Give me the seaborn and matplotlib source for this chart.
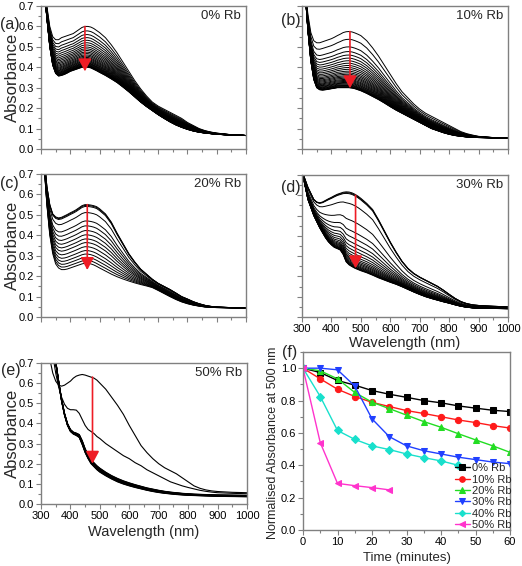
import numpy as np
import pandas as pd
import matplotlib
matplotlib.use("Agg")
import matplotlib.pyplot as plt
from matplotlib.ticker import MultipleLocator, FormatStrFormatter
import seaborn as sns

# ---------------- data ----------------
WL = [300, 310, 320, 330, 340, 350, 360, 370, 380, 390, 400, 410, 420, 430, 440, 450,
      460, 470, 480, 490, 500, 520, 540, 560, 580, 600, 620, 640, 660, 680, 700, 720,
      740, 760, 780, 800, 820, 840, 860, 880, 900, 950, 1000]

# (a) 0% Rb
a_top = [0.95, 0.82, 0.70, 0.60, 0.55, 0.535, 0.535, 0.545, 0.55, 0.555, 0.56, 0.565, 0.575, 0.585,
         0.595, 0.60, 0.60, 0.597, 0.59, 0.58, 0.57, 0.545, 0.51, 0.47, 0.425, 0.38, 0.335, 0.295,
         0.26, 0.23, 0.21, 0.195, 0.18, 0.165, 0.15, 0.13, 0.115, 0.10, 0.09, 0.083, 0.078, 0.07, 0.066]
a_bottom = [0.95, 0.80, 0.64, 0.50, 0.41, 0.37, 0.357, 0.36, 0.365, 0.372, 0.38, 0.385, 0.39, 0.395,
            0.40, 0.40, 0.40, 0.397, 0.39, 0.383, 0.375, 0.36, 0.343, 0.325, 0.303, 0.28, 0.255, 0.23,
            0.208, 0.188, 0.168, 0.15, 0.133, 0.118, 0.106, 0.096, 0.088, 0.082, 0.078, 0.075, 0.072,
            0.068, 0.066]
a_peaks = [0.600, 0.578, 0.560, 0.545, 0.532, 0.520, 0.509, 0.499, 0.490, 0.482, 0.474, 0.467,
           0.460, 0.454, 0.448, 0.443, 0.438, 0.433, 0.429, 0.425, 0.421, 0.418, 0.415, 0.412,
           0.409, 0.407, 0.405, 0.403, 0.401, 0.400]

# (b) 10% Rb
b_top = [0.95, 0.80, 0.66, 0.57, 0.53, 0.52, 0.52, 0.525, 0.53, 0.535, 0.54, 0.547, 0.555, 0.562,
         0.57, 0.574, 0.575, 0.573, 0.568, 0.562, 0.555, 0.53, 0.495, 0.455, 0.41, 0.365, 0.32, 0.28,
         0.25, 0.22, 0.195, 0.175, 0.16, 0.145, 0.13, 0.115, 0.10, 0.085, 0.075, 0.068, 0.062, 0.056, 0.054]
b_bottom = [0.95, 0.78, 0.58, 0.43, 0.34, 0.30, 0.29, 0.288, 0.29, 0.292, 0.295, 0.297, 0.30, 0.30,
            0.30, 0.30, 0.30, 0.298, 0.295, 0.29, 0.285, 0.272, 0.257, 0.242, 0.225, 0.207, 0.19,
            0.175, 0.16, 0.145, 0.13, 0.115, 0.10, 0.09, 0.08, 0.072, 0.066, 0.062, 0.059, 0.057,
            0.056, 0.055, 0.054]
b_peaks = [0.575, 0.537, 0.500, 0.477, 0.460, 0.445, 0.432, 0.420, 0.409, 0.399, 0.390, 0.381,
           0.373, 0.366, 0.359, 0.353, 0.347, 0.341, 0.336, 0.331, 0.326, 0.322, 0.318, 0.314,
           0.311, 0.308, 0.305, 0.303, 0.301, 0.300]

# (c) 20% Rb
c_top = [0.95, 0.80, 0.64, 0.55, 0.505, 0.49, 0.485, 0.488, 0.495, 0.502, 0.51, 0.517, 0.525, 0.535,
         0.545, 0.55, 0.55, 0.548, 0.545, 0.54, 0.53, 0.505, 0.465, 0.41, 0.36, 0.31, 0.27, 0.235,
         0.21, 0.185, 0.165, 0.15, 0.135, 0.118, 0.10, 0.088, 0.075, 0.065, 0.057, 0.052, 0.049, 0.046, 0.044]
c_bottom = [0.95, 0.75, 0.55, 0.40, 0.31, 0.26, 0.24, 0.232, 0.232, 0.235, 0.24, 0.245, 0.25, 0.255,
            0.26, 0.263, 0.263, 0.26, 0.255, 0.248, 0.24, 0.225, 0.21, 0.197, 0.186, 0.176, 0.167,
            0.159, 0.152, 0.144, 0.13, 0.115, 0.10, 0.086, 0.074, 0.065, 0.058, 0.053, 0.049, 0.047,
            0.046, 0.045, 0.044]
c_peaks = [0.550, 0.546, 0.541, 0.511, 0.470, 0.446, 0.423, 0.402, 0.382, 0.364, 0.344, 0.325,
           0.308, 0.292, 0.277, 0.263]

# (d) 30% Rb
d_top = [0.72, 0.68, 0.64, 0.61, 0.58, 0.567, 0.563, 0.567, 0.575, 0.583, 0.59, 0.598, 0.605, 0.61,
         0.615, 0.617, 0.616, 0.612, 0.605, 0.596, 0.585, 0.56, 0.53, 0.48, 0.425, 0.37, 0.32, 0.275,
         0.24, 0.215, 0.197, 0.182, 0.167, 0.152, 0.133, 0.112, 0.092, 0.076, 0.066, 0.06, 0.057, 0.053, 0.05]
d_bottom = [0.72, 0.65, 0.58, 0.54, 0.50, 0.47, 0.44, 0.415, 0.39, 0.37, 0.355, 0.343, 0.337, 0.33,
            0.308, 0.272, 0.257, 0.248, 0.24, 0.234, 0.228, 0.218, 0.206, 0.193, 0.182, 0.171, 0.161,
            0.149, 0.136, 0.123, 0.111, 0.10, 0.091, 0.083, 0.075, 0.068, 0.06, 0.053, 0.048, 0.045,
            0.043, 0.042, 0.041]
d_peaks = [0.616, 0.612, 0.608, 0.560, 0.480, 0.430, 0.400, 0.375, 0.356, 0.340, 0.326, 0.314,
           0.304, 0.296, 0.289, 0.283, 0.277, 0.272, 0.268, 0.264, 0.261, 0.259, 0.257]

# (e) 50% Rb
e_first = [1.2, 1.0, 0.85, 0.72, 0.65, 0.61, 0.59, 0.585, 0.59, 0.60, 0.61, 0.625, 0.635, 0.64,
           0.643, 0.64, 0.635, 0.63, 0.625, 0.615, 0.60, 0.57, 0.53, 0.49, 0.445, 0.39, 0.34, 0.29,
           0.255, 0.225, 0.20, 0.18, 0.165, 0.15, 0.13, 0.11, 0.09, 0.078, 0.07, 0.065, 0.062, 0.058, 0.056]
e_second = [1.3, 1.1, 0.95, 0.85, 0.74, 0.65, 0.58, 0.53, 0.495, 0.475, 0.468, 0.468, 0.466, 0.45,
            0.42, 0.39, 0.37, 0.36, 0.35, 0.335, 0.325, 0.30, 0.28, 0.26, 0.24, 0.225, 0.205, 0.19,
            0.17, 0.155, 0.14, 0.125, 0.11, 0.10, 0.09, 0.082, 0.075, 0.068, 0.063, 0.059, 0.056, 0.053, 0.051]
e_bundle_low = [1.3, 1.15, 1.0, 0.88, 0.78, 0.70, 0.60, 0.51, 0.44, 0.39, 0.36, 0.347, 0.34, 0.33,
                0.295, 0.255, 0.225, 0.20, 0.185, 0.17, 0.158, 0.14, 0.124, 0.11, 0.099, 0.09, 0.082,
                0.075, 0.068, 0.062, 0.057, 0.053, 0.05, 0.047, 0.045, 0.043, 0.042, 0.041, 0.04,
                0.039, 0.038, 0.037, 0.036]
e_bundle_high = [1.3, 1.15, 1.0, 0.89, 0.79, 0.71, 0.61, 0.52, 0.45, 0.40, 0.37, 0.357, 0.352, 0.345,
                 0.315, 0.275, 0.245, 0.222, 0.205, 0.19, 0.178, 0.158, 0.141, 0.127, 0.115, 0.105,
                 0.096, 0.088, 0.08, 0.074, 0.068, 0.063, 0.059, 0.056, 0.053, 0.051, 0.049, 0.048,
                 0.047, 0.046, 0.045, 0.044, 0.043]
e_bundle_levels = [0.178, 0.176, 0.174, 0.172, 0.170, 0.168, 0.166, 0.164, 0.162, 0.160, 0.158]

# (f) normalised absorbance at 500 nm
time_min = [0, 5, 10, 15, 20, 25, 30, 35, 40, 45, 50, 55, 60]
rb0 = [1.0, 0.973, 0.924, 0.895, 0.862, 0.839, 0.82, 0.80, 0.786, 0.767, 0.753, 0.74, 0.732]
rb10 = [1.0, 0.934, 0.87, 0.825, 0.789, 0.763, 0.738, 0.72, 0.70, 0.68, 0.664, 0.645, 0.63]
rb20 = [1.0, 0.984, 0.934, 0.85, 0.79, 0.75, 0.71, 0.67, 0.635, 0.595, 0.557, 0.52, 0.48]
rb30 = [1.0, 1.0, 0.99, 0.89, 0.687, 0.577, 0.52, 0.49, 0.47, 0.45, 0.435, 0.42, 0.41]
time40 = [0, 5, 10, 15, 20, 25, 30, 35, 40, 45]
rb40 = [1.0, 0.825, 0.615, 0.56, 0.52, 0.497, 0.47, 0.447, 0.427, 0.40]
time50 = [0, 5, 10, 15, 20, 25]
rb50 = [1.0, 0.54, 0.288, 0.274, 0.262, 0.248]
f_labels = ["0% Rb", "10% Rb", "20% Rb", "30% Rb", "40% Rb", "50% Rb"]

# ---------------- style ----------------
sns.set_theme(style="white")
plt.rcParams["font.family"] = ["Liberation Sans", "DejaVu Sans"]

W, H = 522, 566
fig = plt.figure(figsize=(W / 100, H / 100), dpi=100)

SPINE = "#808080"


def add_ax(l, t, r, b):
    return fig.add_axes([l / W, 1 - b / H, (r - l) / W, (b - t) / H])


def ftext(x, y, s, **kw):
    fig.text(x / W, 1 - y / H, s, **kw)


def style_spec(ax, xlabels, ylabels):
    ax.set_xlim(300, 1000)
    ax.set_ylim(0, 0.7)
    ax.xaxis.set_major_locator(MultipleLocator(100))
    ax.xaxis.set_minor_locator(MultipleLocator(50))
    ax.yaxis.set_major_locator(MultipleLocator(0.1))
    ax.yaxis.set_minor_locator(MultipleLocator(0.05))
    ax.yaxis.set_major_formatter(FormatStrFormatter("%.1f"))
    ax.tick_params(which="both", direction="out", color=SPINE, width=0.8,
                   bottom=True, left=True, top=False, right=False,
                   labelsize=8, pad=1.5, labelcolor="black")
    ax.tick_params(which="major", length=3.5)
    ax.tick_params(which="minor", length=2)
    ax.tick_params(labelbottom=xlabels, labelleft=ylabels)
    for s in ax.spines.values():
        s.set_color(SPINE)
        s.set_linewidth(1.0)
    ax.set_xlabel("")
    ax.set_ylabel("")


def family_df(top, bottom, levels, ref_wl):
    i = WL.index(ref_wl)
    t = np.array(top)
    b = np.array(bottom)
    rows = []
    for k, p in enumerate(levels):
        frac = (p - b[i]) / (t[i] - b[i])
        y = b + frac * (t - b)
        rows.append(pd.DataFrame({"wl": WL, "A": y, "curve": k}))
    return pd.concat(rows, ignore_index=True)


def draw_family(ax, df, lw=0.7):
    sns.lineplot(data=df, x="wl", y="A", units="curve", estimator=None,
                 color="black", linewidth=lw, ax=ax, legend=False)


def red_arrow(ax, x, y0, y1):
    ax.annotate("", xy=(x, y1), xytext=(x, y0),
                arrowprops=dict(arrowstyle="-|>,head_length=0.75,head_width=0.4",
                                color="#ee1c25", lw=1.2, shrinkA=0, shrinkB=0,
                                mutation_scale=10))


def corner_text(ax, s):
    ax.text(0.975, 0.93, s, transform=ax.transAxes, ha="right", va="center", fontsize=9.5)


# (a)
ax_a = add_ax(41, 6, 246, 149)
draw_family(ax_a, family_df(a_top, a_bottom, a_peaks, 450))
style_spec(ax_a, False, True)
red_arrow(ax_a, 450, 0.60, 0.38)
corner_text(ax_a, "0% Rb")

# (b)
ax_b = add_ax(302, 6, 508, 149)
draw_family(ax_b, family_df(b_top, b_bottom, b_peaks, 460))
style_spec(ax_b, False, False)
red_arrow(ax_b, 463, 0.575, 0.297)
corner_text(ax_b, "10% Rb")

# (c)
ax_c = add_ax(41, 174, 246, 317)
draw_family(ax_c, family_df(c_top, c_bottom, c_peaks, 450))
style_spec(ax_c, False, True)
red_arrow(ax_c, 458, 0.55, 0.23)
corner_text(ax_c, "20% Rb")

# (d)
ax_d = add_ax(302, 175, 508, 317)
draw_family(ax_d, family_df(d_top, d_bottom, d_peaks, 460))
style_spec(ax_d, True, False)
red_arrow(ax_d, 482, 0.60, 0.24)
corner_text(ax_d, "30% Rb")

# (e)
ax_e = add_ax(41, 363, 247, 504)
e_df = family_df(e_bundle_high, e_bundle_low, e_bundle_levels, 500)
e_extra = pd.concat([pd.DataFrame({"wl": WL, "A": e_first, "curve": 100}),
                     pd.DataFrame({"wl": WL, "A": e_second, "curve": 101})], ignore_index=True)
draw_family(ax_e, pd.concat([e_df, e_extra], ignore_index=True), lw=0.8)
style_spec(ax_e, True, True)
red_arrow(ax_e, 475, 0.63, 0.20)
corner_text(ax_e, "50% Rb")

# (f)
ax_f = add_ax(303, 352, 510, 530)
f_series = [(time_min, rb0, "black", "s"),
            (time_min, rb10, "#ff1a1a", "o"),
            (time_min, rb20, "#22dd22", "^"),
            (time_min, rb30, "#2040ff", "v"),
            (time40, rb40, "#18e0cc", "D"),
            (time50, rb50, "#ff33cc", "<")]
for (tt, vv, col, mk), lab in zip(f_series, f_labels):
    sns.lineplot(x=tt, y=vv, color=col, marker=mk, markersize=4.5 if mk != "D" else 3.6,
                 markeredgecolor=col, linewidth=1.0, label=lab, ax=ax_f)
ax_f.set_xlim(0, 60)
ax_f.set_ylim(0, 1.1)
ax_f.xaxis.set_major_locator(MultipleLocator(10))
ax_f.xaxis.set_minor_locator(MultipleLocator(5))
ax_f.yaxis.set_major_locator(MultipleLocator(0.2))
ax_f.yaxis.set_minor_locator(MultipleLocator(0.1))
ax_f.yaxis.set_major_formatter(FormatStrFormatter("%.1f"))
ax_f.tick_params(which="both", direction="out", color=SPINE, width=0.8,
                 bottom=True, left=True, top=False, right=False,
                 labelsize=8, pad=1.5, labelcolor="black")
ax_f.tick_params(which="major", length=3.5)
ax_f.tick_params(which="minor", length=2)
for s in ax_f.spines.values():
    s.set_color(SPINE)
    s.set_linewidth(1.0)
ax_f.set_xlabel("")
ax_f.set_ylabel("")
ax_f.legend(loc="lower right", bbox_to_anchor=(1.01, 0.0), frameon=False, fontsize=8,
            handlelength=1.4, handletextpad=0.2, labelspacing=0.12, borderpad=0.0,
            borderaxespad=0.0, markerscale=0.9)

# labels
for s, x, y in [("(a)", 0, 24), ("(b)", 281, 21), ("(c)", 0, 183), ("(d)", 281, 188),
                ("(e)", 1, 371), ("(f)", 282, 352)]:
    ftext(x, y, s, ha="left", va="center", fontsize=11.5)

for yc in (77.5, 245.5, 433.5):
    ftext(12, yc, "Absorbance", rotation=90, ha="center", va="center", fontsize=12)
ftext(405, 343, "Wavelength (nm)", ha="center", va="center", fontsize=10.5)
ftext(144, 532, "Wavelength (nm)", ha="center", va="center", fontsize=10.5)
ftext(407, 558, "Time (minutes)", ha="center", va="center", fontsize=9.5)
ftext(273, 443, "Normalised Absorbance at 500 nm", rotation=90, ha="center", va="center",
      fontsize=9)

fig.savefig("out.png", dpi=100)
